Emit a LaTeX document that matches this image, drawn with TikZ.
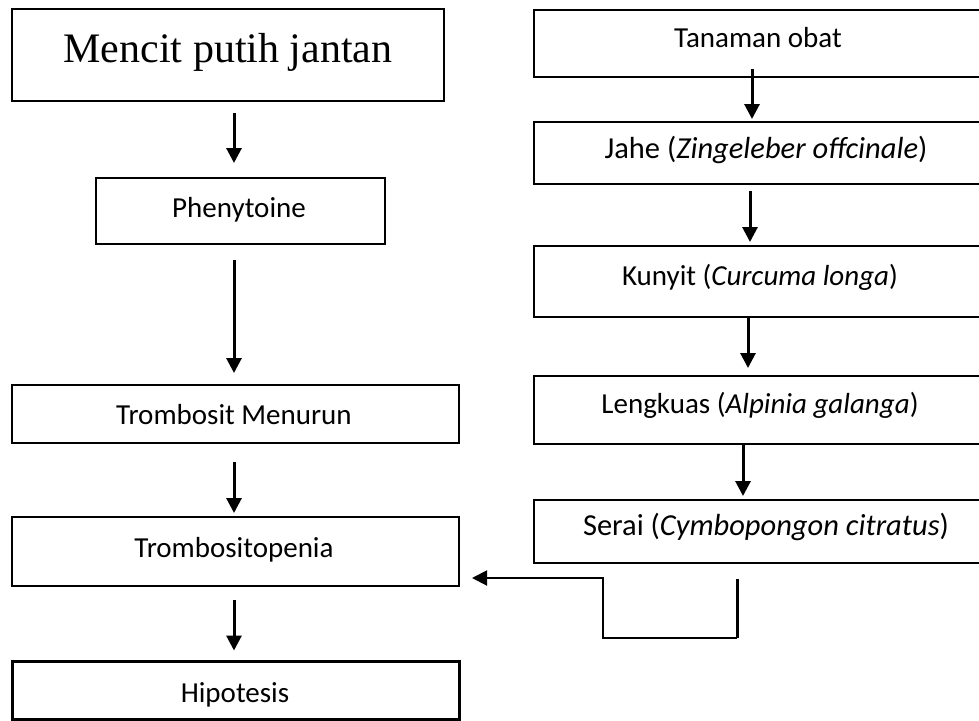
\documentclass[tikz,border=0pt]{standalone}
\usepackage{fontspec}
\setmainfont{Carlito}
\newfontfamily\timesf{Liberation Serif}
\usetikzlibrary{arrows.meta}

\tikzset{
  box/.style={draw=black, line width=2pt, rectangle, inner sep=0pt},
  label/.style={inner sep=0pt, anchor=base, font=\fontsize{29}{34}\selectfont},
  biglabel/.style={inner sep=0pt, anchor=base, font=\fontsize{30.5}{36}\selectfont},
  flow/.style={line width=3pt, -{Triangle[width=15pt,length=15pt]}},
  back/.style={line width=2pt, -{Triangle[width=15pt,length=15pt]}},
}

\begin{document}
\begin{tikzpicture}[x=1pt, y=-1pt]
\useasboundingbox (0,0) rectangle (979,720);
\clip (0,0) rectangle (979,720);

% left column
\node[box, minimum width=432pt, minimum height=92pt] (mencit) at (228,55) {};
\node[box, minimum width=289pt, minimum height=66pt] (phen) at (240.5,211) {};
\node[box, minimum width=447pt, minimum height=58pt] (turun) at (235.5,414) {};
\node[box, minimum width=447pt, minimum height=69pt] (penia) at (235.5,551.5) {};
\node[box, line width=3pt, minimum width=447pt, minimum height=58pt] (hipo) at (235.5,690) {};

\node[inner sep=0pt, anchor=base, font=\timesf\fontsize{42}{48}\selectfont] (tmencit) at (228,62) {Mencit putih jantan};
\node[label] (tphen) at (239,217) {Phenytoine};
\node[label] (tturun) at (234,424) {Trombosit Menurun};
\node[label] (tpenia) at (234,557) {Trombositopenia};
\node[label] (thipo) at (235,702) {Hipotesis};

% right column (boxes run past the right edge)
\node[box, minimum width=466pt, minimum height=67pt] (obat) at (767,43.5) {};
\node[box, minimum width=466pt, minimum height=62pt] (jahe) at (767,153) {};
\node[box, minimum width=466pt, minimum height=71pt] (kunyit) at (767,281.5) {};
\node[box, minimum width=466pt, minimum height=68pt] (lengkuas) at (767,410) {};
\node[box, minimum width=466pt, minimum height=63pt] (serai) at (767,531.5) {};

\node[label] (tobat) at (758,47) {Tanaman obat};
\node[biglabel] (tjahe) at (766,158) {Jahe (\textit{Zingeleber offcinale})};
\node[label] (tkunyit) at (760,285) {Kunyit (\textit{Curcuma longa})};
\node[label] (tlengkuas) at (760,413) {Lengkuas (\textit{Alpinia galanga})};
\node[biglabel] (tserai) at (766,535) {Serai (\textit{Cymbopongon citratus})};

% arrow columns
\coordinate (lx) at (234,0);
\coordinate (r1) at (752,0);
\coordinate (r2) at (750,0);
\coordinate (r3) at (748,0);
\coordinate (r4) at (743,0);

\draw[flow, shorten <=11pt, shorten >=14pt] (mencit.south -| lx) -- (phen.north -| lx);
\draw[flow, shorten <=15pt, shorten >=11pt] (phen.south -| lx) -- (turun.north -| lx);
\draw[flow, shorten <=18pt, shorten >=3pt] (turun.south -| lx) -- (penia.north -| lx);
\draw[flow, shorten <=13pt, shorten >=9pt] (penia.south -| lx) -- (hipo.north -| lx);

\draw[flow, shorten >=2pt] ([yshift=9pt]obat.south -| r1) -- (jahe.north -| r1);
\draw[flow, shorten <=6pt, shorten >=3pt] (jahe.south -| r2) -- (kunyit.north -| r2);
\draw[flow, shorten >=7pt] (kunyit.south -| r3) -- (lengkuas.north -| r3);
\draw[flow, shorten >=3pt] (lengkuas.south -| r4) -- (serai.north -| r4);

% feedback line into Trombositopenia
\coordinate (fa) at (737,579);
\coordinate (fb) at (737,638);
\coordinate (fc) at (603,638);
\coordinate (fd) at (603,578);
\draw[line width=3pt] (fa) -- (fb);
\draw[back, shorten >=12pt] (fb) -- (fc) -- (fd) -- (penia.east |- fd);
\end{tikzpicture}
\end{document}
